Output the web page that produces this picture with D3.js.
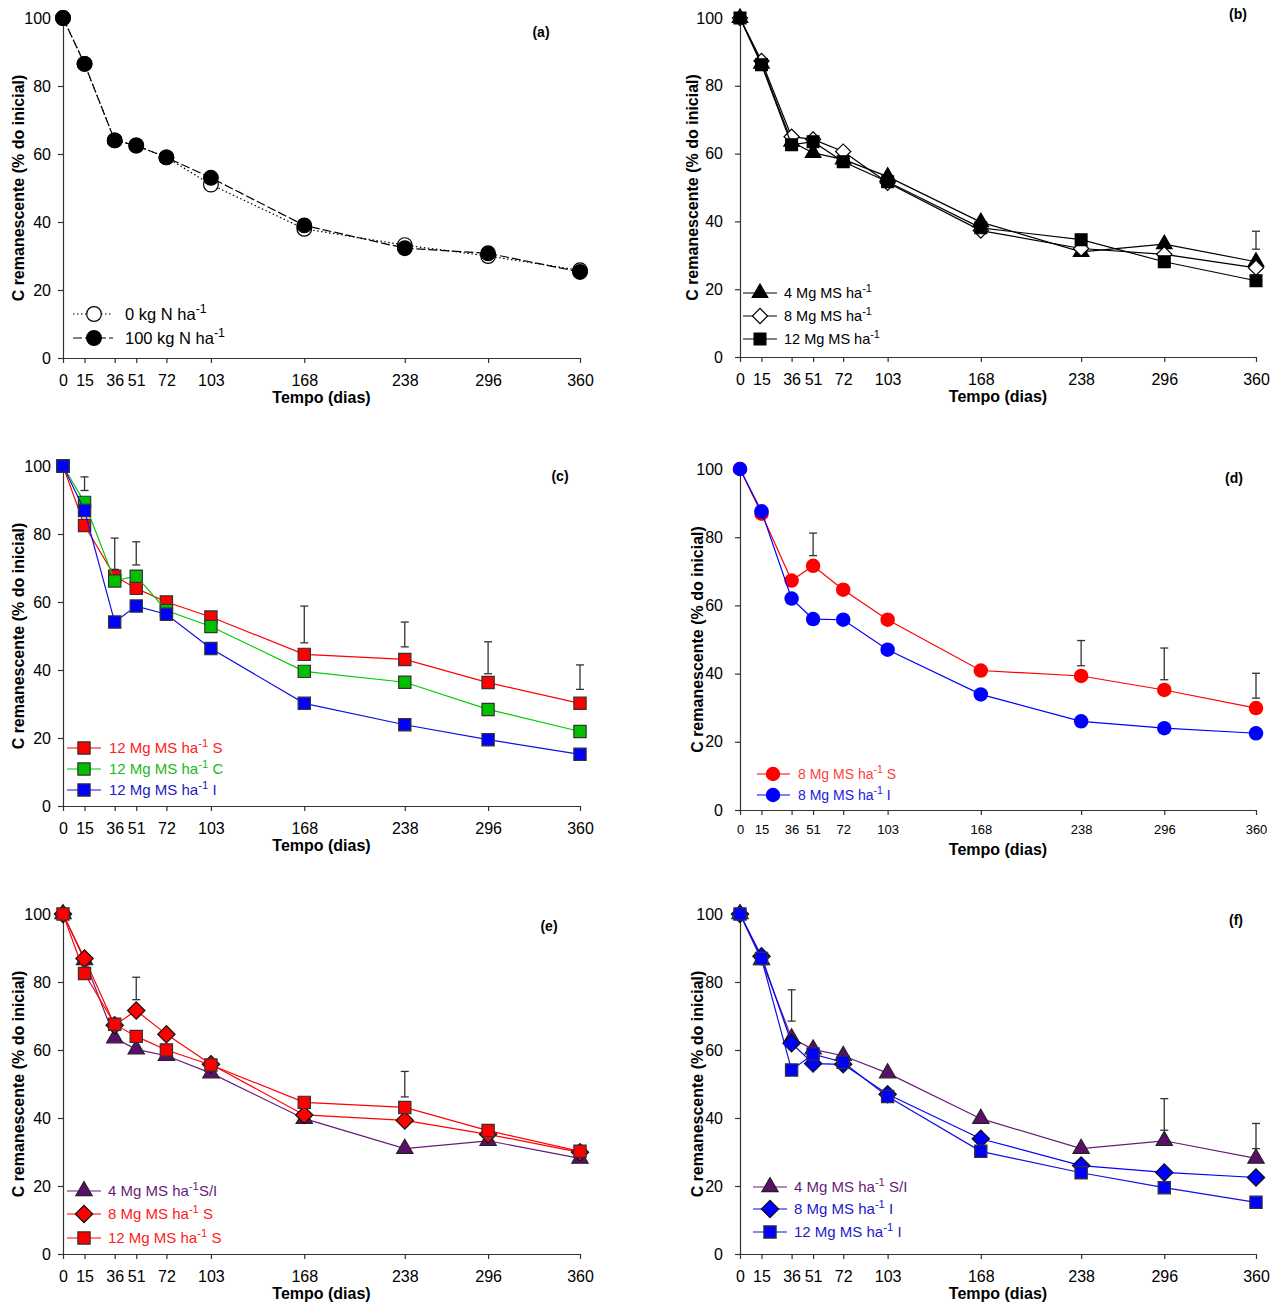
<!DOCTYPE html>
<html>
<head>
<meta charset="utf-8">
<script src="https://cdn.jsdelivr.net/npm/d3@7"></script>
<style>
  body { margin: 0; background: #fff; }
  text { font-family: "Liberation Sans", Arial, sans-serif; }
</style>
</head>
<body>
<svg id="chart" width="1283" height="1303"></svg>
<script>
// tempo (dias) e ticks
var dias = [0, 15, 36, 51, 72, 103, 168, 238, 296, 360];
var yTicks = [0, 20, 40, 60, 80, 100];

// (a) doses de N
var n0 = [100, 86.5, 64, 62.5, 59, 51, 38, 33.2, 30, 25.8];
var n100 = [100, 86.5, 64, 62.5, 59, 53, 39, 32.3, 30.8, 25.3];

// (b) quantidade de palha
var mg4 = [100, 86.5, 63.5, 60.2, 58.3, 53.2, 39.8, 31, 33.3, 28.1];
var mg8 = [100, 87.3, 65, 64.2, 60.6, 51.4, 37.3, 32, 30.3, 26.3];
var mg12 = [100, 86.2, 62.6, 63.5, 57.6, 51.7, 38.1, 34.6, 28.1, 22.5];
var errB = [[360, 31.8, 37.1]];

// (c) 12 Mg, posicao S / C / I
var mg12S = [100, 82.5, 67.6, 64, 60, 55.6, 44.6, 43.1, 36.3, 30.2];
var mg12C = [100, 89.3, 66.2, 67.6, 57.5, 52.8, 39.6, 36.4, 28.4, 21.9];
var mg12I = [100, 86.9, 54.1, 58.8, 56.4, 46.3, 30.2, 23.9, 19.5, 15.2];
var errC = [[15, 92.8, 96.8], [36, 69.6, 78.8], [51, 70.9, 77.7], [168, 48, 58.8],
            [238, 46.8, 54.1], [296, 38.9, 48.3], [360, 34.3, 41.5]];

// (d) 8 Mg S / I
var mg8S = [100, 86.9, 67.3, 71.6, 64.6, 55.8, 40.9, 39.3, 35.2, 29.9];
var mg8I = [100, 87.6, 62, 56, 55.8, 47, 33.9, 26, 24, 22.5];
var errD = [[51, 74.6, 81.2], [238, 42.3, 49.7], [296, 38.2, 47.5], [360, 32.8, 40.1]];

// (e) e (f)
var errE = [[51, 74.8, 81.4], [238, 46.2, 53.7]];
var errF = [[36, 68.5, 77.7], [296, 36.4, 45.7], [360, 31, 38.4]];

var RED = "#ff0000", GREEN = "#00c000", BLUE = "#0000ff", PURPLE = "#5a0f6a";

var panels = [
  { tag: "(a)", x0: 63, x1: 580, yT: 18, yB: 358, tagX: 541, tagY: 37, ytx: 18, xtFont: 16, legFont: 16.5,
    series: [
      { v: n0, label: "0 kg N ha", suf: "", sym: "circle", fill: "#fff", stroke: "#000", line: "#000", dash: "1.5,2.5", text: "#000", size: 170 },
      { v: n100, label: "100 kg N ha", suf: "", sym: "circle", fill: "#000", stroke: "#000", line: "#000", dash: "9,3", text: "#000", size: 170 }
    ],
    err: [], leg: { lx1: 73, lx2: 113, mx: 94, tx: 125, ys: [314, 338] } },
  { tag: "(b)", x0: 740, x1: 1256, yT: 18, yB: 357, tagX: 1238, tagY: 19, ytx: 692, xtFont: 16, legFont: 14.5,
    series: [
      { v: mg4, label: "4 Mg MS ha", suf: "", sym: "triangle", fill: "#000", stroke: "#000", line: "#000", text: "#000", size: 105 },
      { v: mg8, label: "8 Mg MS ha", suf: "", sym: "diamond", fill: "#fff", stroke: "#000", line: "#000", text: "#000", size: 115 },
      { v: mg12, label: "12 Mg MS ha", suf: "", sym: "square", fill: "#000", stroke: "#000", line: "#000", text: "#000", size: 140 }
    ],
    err: errB, leg: { lx1: 743, lx2: 777, mx: 760, tx: 784, ys: [293, 316, 339] } },
  { tag: "(c)", x0: 63, x1: 580, yT: 466, yB: 806, tagX: 560, tagY: 481, ytx: 18, xtFont: 16, legFont: 15,
    series: [
      { v: mg12S, label: "12 Mg MS ha", suf: " S", sym: "square", fill: RED, stroke: "#333", line: RED, text: "#ff2020", size: 150 },
      { v: mg12C, label: "12 Mg MS ha", suf: " C", sym: "square", fill: GREEN, stroke: "#333", line: "#00cc00", text: "#20b820", size: 150 },
      { v: mg12I, label: "12 Mg MS ha", suf: " I", sym: "square", fill: BLUE, stroke: "#333", line: "#1010e0", text: "#2020c0", size: 150 }
    ],
    err: errC, leg: { lx1: 67, lx2: 101, mx: 84, tx: 109, ys: [748, 769, 790] } },
  { tag: "(d)", x0: 740, x1: 1256, yT: 469, yB: 810, tagX: 1234, tagY: 483, ytx: 697, xtFont: 13, legFont: 14,
    series: [
      { v: mg8S, label: "8 Mg MS ha", suf: " S", sym: "circle", fill: RED, stroke: "none", line: RED, text: "#ff4040", size: 165 },
      { v: mg8I, label: "8 Mg  MS ha", suf: " I", sym: "circle", fill: BLUE, stroke: "none", line: BLUE, text: "#2020e0", size: 165 }
    ],
    err: errD, leg: { lx1: 757, lx2: 790, mx: 773, tx: 798, ys: [774, 795] } },
  { tag: "(e)", x0: 63, x1: 580, yT: 914, yB: 1254, tagX: 549, tagY: 931, ytx: 18, xtFont: 16, legFont: 15,
    series: [
      { v: mg4, label: "4 Mg MS ha", suf: "S/I", sym: "triangle", fill: PURPLE, stroke: "#222", line: "#6a1a7a", text: "#6a1a78", size: 115 },
      { v: mg8S, label: "8 Mg MS ha", suf: " S", sym: "diamond", fill: RED, stroke: "#111", line: RED, text: "#ff2020", size: 150 },
      { v: mg12S, label: "12 Mg MS ha", suf: " S", sym: "square", fill: RED, stroke: "#333", line: RED, text: "#ff2020", size: 150 }
    ],
    err: errE, leg: { lx1: 67, lx2: 101, mx: 84, tx: 108, ys: [1191, 1214, 1238] } },
  { tag: "(f)", x0: 740, x1: 1256, yT: 914, yB: 1254, tagX: 1236, tagY: 925, ytx: 697, xtFont: 16, legFont: 15,
    series: [
      { v: mg4, label: "4 Mg MS ha", suf: " S/I", sym: "triangle", fill: PURPLE, stroke: "#222", line: "#6a1a7a", text: "#6a1a78", size: 115 },
      { v: mg8I, label: "8 Mg MS ha", suf: " I", sym: "diamond", fill: BLUE, stroke: "#111", line: BLUE, text: "#2020c8", size: 150 },
      { v: mg12I, label: "12 Mg MS ha", suf: " I", sym: "square", fill: BLUE, stroke: "#333", line: "#1010e0", text: "#2020c8", size: 150 }
    ],
    err: errF, leg: { lx1: 753, lx2: 787, mx: 770, tx: 794, ys: [1187, 1209, 1232] } }
];

var svg = d3.select("#chart");
svg.append("rect").attr("width", 1283).attr("height", 1303).attr("fill", "#fff");

function symPath(s) {
  var t = s.sym == "circle" ? d3.symbolCircle
        : s.sym == "triangle" ? d3.symbolTriangle
        : d3.symbolSquare;
  return d3.symbol().type(t).size(s.size)();
}

function marker(g, s, cx, cy) {
  g.append("path")
    .attr("d", symPath(s))
    .attr("transform", "translate(" + cx + "," + cy + ")" + (s.sym == "diamond" ? " rotate(45)" : ""))
    .attr("fill", s.fill)
    .attr("stroke", s.stroke)
    .attr("stroke-width", s.stroke == "none" ? 0 : 1.2);
}

panels.forEach(function(p) {
  var g = svg.append("g");
  var x = d3.scaleLinear().domain([0, 360]).range([p.x0, p.x1]);
  var y = d3.scaleLinear().domain([0, 100]).range([p.yB, p.yT]);

  // eixos
  var ax = g.append("g")
    .attr("transform", "translate(0," + p.yB + ")")
    .call(d3.axisBottom(x).tickValues(dias).tickSizeInner(5).tickSizeOuter(0).tickPadding(p.xtFont < 16 ? 10 : 12));
  ax.selectAll("text").attr("font-size", p.xtFont).attr("fill", "#000").style("font-family", "Liberation Sans, Arial, sans-serif");
  var ay = g.append("g")
    .attr("transform", "translate(" + p.x0 + ",0)")
    .call(d3.axisLeft(y).tickValues(yTicks).tickSizeInner(5).tickSizeOuter(0).tickPadding(p.x0 > 600 ? 12 : 7));
  ay.selectAll("text").attr("font-size", 16).attr("fill", "#000").style("font-family", "Liberation Sans, Arial, sans-serif");
  g.selectAll(".domain, .tick line").attr("stroke", "#333").attr("stroke-width", 1.2);

  // titulos
  g.append("text")
    .attr("x", (p.x0 + p.x1) / 2).attr("y", p.yB + 45)
    .attr("text-anchor", "middle").attr("font-size", 16).attr("font-weight", "bold")
    .text("Tempo (dias)");
  g.append("text")
    .attr("transform", "translate(" + (p.ytx + 6) + "," + (p.yT + p.yB) / 2 + ") rotate(-90)")
    .attr("text-anchor", "middle").attr("font-size", 16).attr("font-weight", "bold")
    .text("C remanescente (% do inicial)");
  g.append("text")
    .attr("x", p.tagX).attr("y", p.tagY)
    .attr("text-anchor", "middle").attr("font-size", 14).attr("font-weight", "bold")
    .text(p.tag);

  // barras de erro
  p.err.forEach(function(e) {
    var eg = g.append("g").attr("stroke", "#333").attr("stroke-width", 1.3);
    eg.append("line").attr("x1", x(e[0])).attr("x2", x(e[0])).attr("y1", y(e[1])).attr("y2", y(e[2]));
    eg.append("line").attr("x1", x(e[0]) - 4).attr("x2", x(e[0]) + 4).attr("y1", y(e[1])).attr("y2", y(e[1]));
    eg.append("line").attr("x1", x(e[0]) - 4).attr("x2", x(e[0]) + 4).attr("y1", y(e[2])).attr("y2", y(e[2]));
  });

  // series
  var line = d3.line().x(function(d, i) { return x(dias[i]); }).y(function(d) { return y(d); });
  p.series.forEach(function(s) {
    g.append("path")
      .attr("d", line(s.v))
      .attr("fill", "none")
      .attr("stroke", s.line)
      .attr("stroke-width", 1.2)
      .attr("stroke-dasharray", s.dash || null);
    s.v.forEach(function(v, i) { marker(g, s, x(dias[i]), y(v)); });
  });

  // legenda
  p.series.forEach(function(s, i) {
    var ly = p.leg.ys[i];
    g.append("line")
      .attr("x1", p.leg.lx1).attr("x2", p.leg.lx2).attr("y1", ly).attr("y2", ly)
      .attr("stroke", s.line).attr("stroke-width", 1.2)
      .attr("stroke-dasharray", s.dash || null);
    marker(g, s, p.leg.mx, ly);
    var t = g.append("text")
      .attr("x", p.leg.tx).attr("y", ly + p.legFont * 0.36)
      .attr("font-size", p.legFont).attr("fill", s.text);
    t.append("tspan").text(s.label);
    t.append("tspan").attr("dy", -p.legFont * 0.45).attr("font-size", p.legFont * 0.75).text("-1");
    t.append("tspan").attr("dy", p.legFont * 0.45).text(s.suf);
  });
});
</script>
</body>
</html>
